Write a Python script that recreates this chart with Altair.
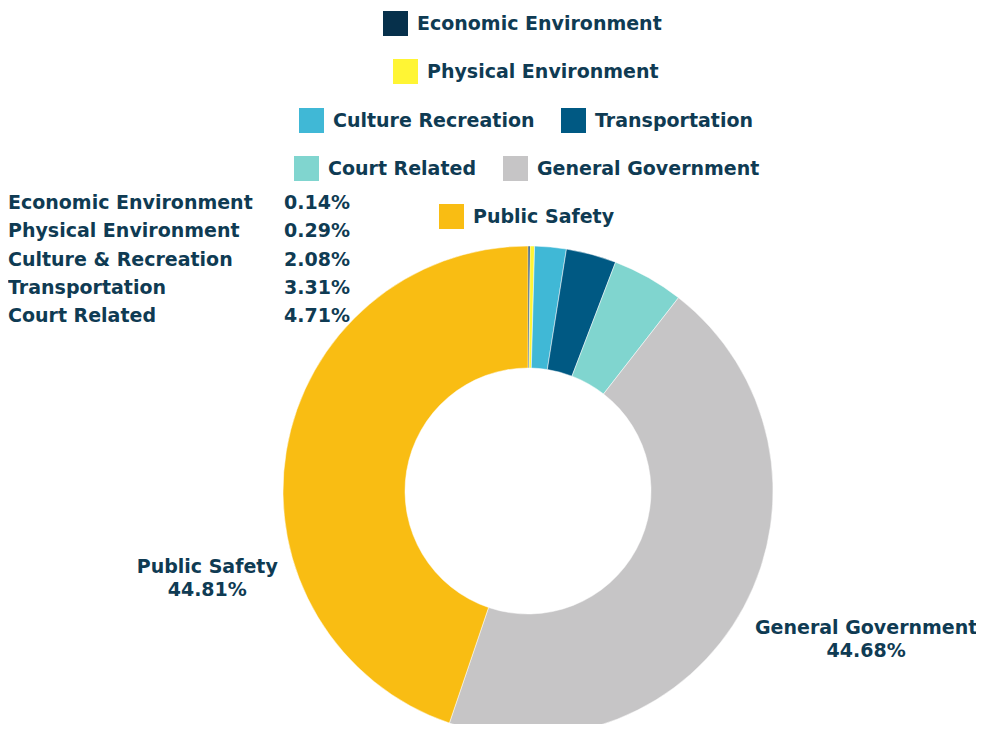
import altair as alt
import pandas as pd

# ---- data ----
categories = ["Economic Environment", "Physical Environment", "Culture Recreation",
              "Transportation", "Court Related", "General Government", "Public Safety"]
table_names = ["Economic Environment", "Physical Environment", "Culture & Recreation",
               "Transportation", "Court Related", "General Government", "Public Safety"]
shares = [0.14, 0.29, 2.08, 3.31, 4.71, 44.68, 44.81]
colors = ["#06304b", "#fff534", "#40b8d6", "#005983", "#80d5cf", "#c6c5c6", "#f9bd13"]
legend_rows = [[0], [1], [2, 3], [4, 5], [6]]
table_count = 5

df = pd.DataFrame({
    "cat": categories,
    "tname": table_names,
    "share": shares,
    "idx": list(range(len(categories))),
})

FONT = "DejaVu Sans"
FW = "bold"
TXT = "#0f3b53"
FS = 19
CX, CY = 520, 483

base = alt.Chart(df)

donut = base.mark_arc(innerRadius=123, outerRadius=245, stroke="#ffffff", strokeWidth=0.5).encode(
    theta=alt.Theta("share:Q", stack=True),
    order=alt.Order("idx:Q"),
    color=alt.Color("cat:N", scale=alt.Scale(domain=categories, range=colors), legend=None),
    x=alt.value(CX), y=alt.value(CY),
)

def big_label(name, radius, dx, dy):
    return base.transform_calculate(
        lab=f"datum.cat == '{name}' ? datum.cat + '\\n' + format(datum.share, '.2f') + '%' : ''"
    ).mark_text(radius=radius, dx=dx, dy=dy, lineBreak="\n", font=FONT, fontSize=FS,
                fontWeight=FW, color=TXT, align="center", baseline="middle",
                lineHeight=23).encode(
        theta=alt.Theta("share:Q", stack=True),
        order=alt.Order("idx:Q"),
        text=alt.Text("lab:N"),
        x=alt.value(CX), y=alt.value(CY),
    )

gg_label = big_label("General Government", 375, 8, -41)
ps_label = big_label("Public Safety", 321, -4, 128)

small = base.transform_filter(alt.datum.idx < table_count).transform_calculate(
    pct="format(datum.share, '.2f') + '%'"
)
ysc = alt.Y("tname:N", sort=table_names[:table_count], axis=None,
            scale=alt.Scale(range=[195, 308], padding=0))
table_names_layer = small.mark_text(font=FONT, fontSize=FS, fontWeight=FW, color=TXT,
                                    align="left", baseline="middle").encode(
    y=ysc, x=alt.value(0), text="tname:N")
table_pct_layer = small.mark_text(font=FONT, fontSize=FS, fontWeight=FW, color=TXT,
                                  align="left", baseline="middle").encode(
    y=ysc, x=alt.value(276), text="pct:N")

legend_pos = [(375, 3), (385, 51), (291, 100), (286, 148), (431, 196)]

legend_layers = []
for row, (lx, ly) in zip(legend_rows, legend_pos):
    dom = [categories[i] for i in row]
    rng = [colors[i] for i in row]
    legend_layers.append(
        base.transform_filter(alt.FieldOneOfPredicate(field="cat", oneOf=dom))
        .mark_square(filled=True, size=10, opacity=1)
        .encode(
            x=alt.value(-60), y=alt.value(-60),
            color=alt.Color("cat:N", scale=alt.Scale(domain=dom, range=rng),
                            legend=alt.Legend(
                                orient="none", legendX=lx, legendY=ly, direction="horizontal",
                                title=None, symbolType="square", symbolSize=625,
                                symbolStrokeWidth=0, symbolOpacity=1, labelFont=FONT,
                                labelFontSize=FS, labelFontWeight=FW,
                                labelColor=TXT, labelOffset=9, columnPadding=26,
                                padding=0, labelLimit=400)),
        )
    )

chart = alt.layer(donut, gg_label, ps_label, table_names_layer, table_pct_layer,
                  *legend_layers).resolve_scale(color="independent").properties(
    width=968, height=716, padding=0, autosize=alt.AutoSizeParams(type="none"),
    background="#ffffff"
).configure_view(stroke=None)

chart.save("out.html", embed_options={"renderer": "svg", "actions": False})
